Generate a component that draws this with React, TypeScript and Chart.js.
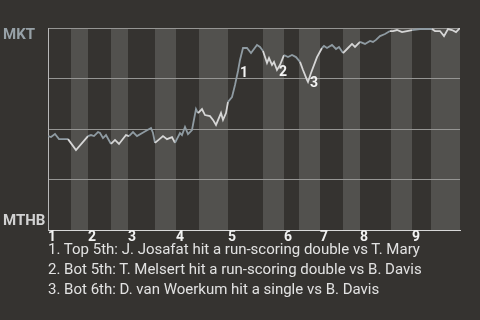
import React, { useEffect, useRef } from "react";
import { Chart, registerables } from "chart.js";

Chart.register(...registerables);

// ---------- data ----------
const TEAM_TOP = "MKT";
const TEAM_BOTTOM = "MTHB";

const INNING_LABELS = ["1", "2", "3", "4", "5", "6", "7", "8", "9"];

// game progress at which each half-inning starts (top 1, bot 1, top 2, ...), last value = end of game
const HALF_INNING_STARTS = [0, 23, 40, 63, 80, 107, 128, 151, 180, 215, 236, 251, 272, 295, 312, 343, 364, 383, 412];

// game progress of each play
const PROGRESS = [
  0, 3, 7, 11, 20, 28, 40, 43, 46, 50,
  52, 55, 58, 63, 67, 71, 78, 81, 85, 89,
  96, 103, 105, 107, 115, 119, 124, 127, 132, 134,
  137, 140, 144, 148, 150, 154, 157, 162, 165, 168,
  173, 175, 178, 180, 184, 187, 190, 192, 195, 199,
  203, 209, 212, 215, 219, 221, 224, 226, 229, 232,
  236, 240, 244, 248, 252, 255, 259, 260, 263, 269,
  274, 276, 279, 284, 288, 291, 295, 300, 304, 307,
  312, 317, 322, 325, 328, 332, 337, 342, 345, 349,
  354, 359, 364, 372, 384, 387, 392, 396, 400, 404,
  408, 412,
];

// MKT win probability (%) after each play
const MKT_WIN_PCT = [
  46.5, 46.0, 47.5, 45.0, 45.0, 39.6, 46.5, 47.0, 46.5, 48.5,
  48.0, 45.5, 47.0, 42.6, 44.6, 42.6, 47.0, 46.5, 48.5, 46.5,
  48.5, 50.5, 48.0, 43.1, 46.5, 45.0, 46.0, 43.1, 48.0, 47.0,
  51.0, 47.5, 49.5, 59.9, 57.9, 59.9, 56.9, 56.4, 54.5, 52.0,
  57.9, 54.5, 57.9, 63.4, 65.8, 71.8, 78.7, 84.2, 90.1, 90.1,
  87.6, 91.6, 90.6, 88.6, 82.7, 85.1, 81.7, 83.2, 79.2, 81.7,
  86.6, 85.6, 86.6, 85.6, 83.2, 79.2, 74.3, 73.3, 77.7, 85.6,
  90.1, 91.1, 90.1, 91.6, 89.6, 90.6, 87.6, 90.1, 92.1, 90.6,
  93.1, 92.1, 93.6, 93.1, 94.1, 96.0, 97.0, 98.5, 98.5, 99.0,
  98.0, 98.5, 99.0, 99.5, 99.5, 98.5, 98.5, 96.0, 99.5, 99.0,
  98.0, 100,
];

const EVENT_LABELS = ["1", "2", "3"];
const EVENT_POINT_INDEX = [46, 58, 67];
const EVENT_TEXTS = [
  "1. Top 5th: J. Josafat hit a run-scoring double vs T. Mary",
  "2. Bot 5th: T. Melsert hit a run-scoring double vs B. Davis",
  "3. Bot 6th: D. van Woerkum hit a single vs B. Davis",
];

// ---------- styles ----------
const BG = "#353330";
const BAND = "#52514e";
const MKT_LINE = "#8f9ba2";
const MTHB_LINE = "#d6d6d6";
const MKT_TEXT = "#97a1a7";
const MTHB_TEXT = "#d2d2d2";
const FONT = "Roboto";

function halfIndex(v: number): number {
  for (let i = 0; i < HALF_INNING_STARTS.length - 1; i++) {
    if (v >= HALF_INNING_STARTS[i] && v < HALF_INNING_STARTS[i + 1]) return i;
  }
  return HALF_INNING_STARTS.length - 2;
}

const decorPlugin = {
  id: "decor",
  beforeDraw(chart: any) {
    const { ctx, chartArea: a } = chart;
    const x = chart.scales.x;
    ctx.save();
    ctx.fillStyle = BAND;
    for (let i = 1; i < HALF_INNING_STARTS.length - 1; i += 2) {
      const x0 = x.getPixelForValue(HALF_INNING_STARTS[i]);
      const x1 = x.getPixelForValue(HALF_INNING_STARTS[i + 1]);
      ctx.fillRect(x0, a.top, x1 - x0, a.bottom - a.top);
    }
    ctx.font = `bold 15px ${FONT}`;
    ctx.textAlign = "left";
    ctx.textBaseline = "alphabetic";
    ctx.fillStyle = MKT_TEXT;
    ctx.fillText(TEAM_TOP, 3, a.top + 11);
    ctx.fillStyle = MTHB_TEXT;
    ctx.fillText(TEAM_BOTTOM, 3, a.bottom - 5);
    ctx.restore();
  },
  afterDatasetsDraw(chart: any) {
    const { ctx } = chart;
    const meta = chart.getDatasetMeta(0);
    ctx.save();
    ctx.font = `bold 14px ${FONT}`;
    ctx.fillStyle = "#f4f4f4";
    ctx.textAlign = "left";
    ctx.textBaseline = "middle";
    EVENT_LABELS.forEach((lab, i) => {
      const pt = meta.data[EVENT_POINT_INDEX[i]];
      ctx.fillText(lab, pt.x + 2, pt.y + 2);
    });
    ctx.restore();
  },
};

export default function App() {
  const ref = useRef<HTMLCanvasElement | null>(null);

  useEffect(() => {
    if (!ref.current) return;
    const topStarts = HALF_INNING_STARTS.filter((_, i) => i % 2 === 0 && i < HALF_INNING_STARTS.length - 1);
    const chart = new Chart(ref.current, {
      type: "line",
      data: {
        datasets: [
          {
            data: PROGRESS.map((p, i) => ({ x: p, y: MKT_WIN_PCT[i] })),
            borderWidth: 1.8,
            pointRadius: 0,
            tension: 0,
            borderColor: MKT_LINE,
            segment: {
              borderColor: (c: any) =>
                halfIndex((c.p0.parsed.x + c.p1.parsed.x) / 2) % 2 === 0 ? MKT_LINE : MTHB_LINE,
            },
          },
        ],
      },
      options: {
        animation: false,
        responsive: false,
        devicePixelRatio: 1,
        layout: { padding: { left: 48, right: 20, top: 28, bottom: 76 } },
        plugins: { legend: { display: false }, tooltip: { enabled: false } },
        scales: {
          x: {
            type: "linear",
            min: HALF_INNING_STARTS[0],
            max: HALF_INNING_STARTS[HALF_INNING_STARTS.length - 1],
            grid: { display: false, drawTicks: false },
            border: { display: true, color: "#d8d8d8", width: 1 },
            afterBuildTicks: (scale: any) => {
              scale.ticks = topStarts.map((v) => ({ value: v }));
            },
            ticks: {
              autoSkip: false,
              maxRotation: 0,
              align: "start",
              padding: 0,
              color: "#f2f2f2",
              font: { family: FONT, size: 14, weight: "bold", lineHeight: 1 },
              callback: (_v: any, i: number) => INNING_LABELS[i],
            },
          },
          y: {
            min: 0,
            max: 100,
            ticks: { display: false, stepSize: 25 },
            grid: {
              drawTicks: false,
              color: (c: any) => (c.tick && c.tick.value === 0 ? "#d8d8d8" : "#959593"),
            },
            border: { display: true, color: "#b8b8b8", width: 1 },
          },
        },
      } as any,
      plugins: [decorPlugin],
    });
    return () => chart.destroy();
  }, []);

  return (
    <div
      style={{
        position: "absolute",
        left: 0,
        top: 0,
        width: 480,
        height: 320,
        background: BG,
        overflow: "hidden",
      }}
    >
      <canvas ref={ref} width={480} height={320} style={{ display: "block" }} />
      <div
        style={{
          position: "absolute",
          left: 48,
          top: 239,
          fontFamily: FONT,
          fontSize: 15,
          lineHeight: "20px",
          color: "#e2e2e2",
          whiteSpace: "nowrap",
        }}
      >
        {EVENT_TEXTS.map((t) => (
          <div key={t}>{t}</div>
        ))}
      </div>
    </div>
  );
}
